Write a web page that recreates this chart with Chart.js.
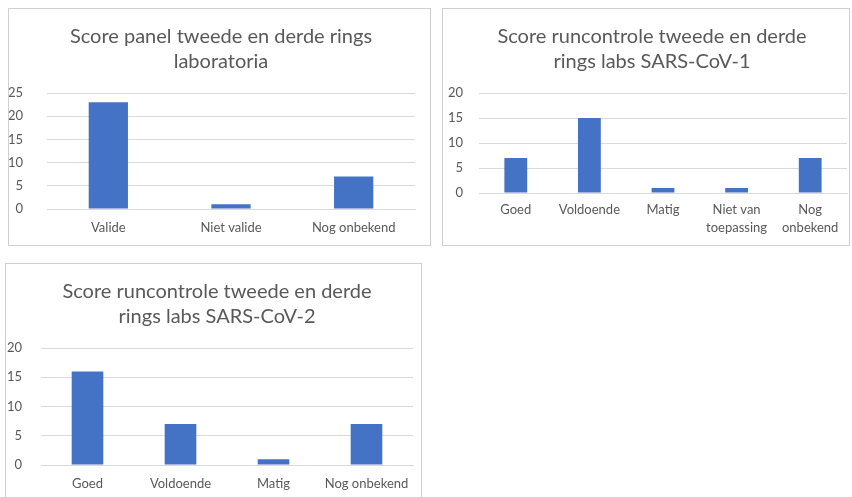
<!DOCTYPE html>
<html>
<head>
<meta charset="utf-8">
<script src="https://cdn.jsdelivr.net/npm/chart.js@4.4.1/dist/chart.umd.min.js"></script>
<style>
  body { margin: 0; background: #fff; width: 852px; height: 497px; overflow: hidden; position: relative; }
  .box { position: absolute; border: 1px solid #d0d0d0; background: #fff; overflow: hidden; }
  .box canvas { display: block; }
</style>
</head>
<body>
<div class="box" style="left:8px;top:8px;width:421px;height:236px;"><canvas id="c1" width="424" height="236"></canvas></div>
<div class="box" style="left:442px;top:8px;width:406px;height:236px;"><canvas id="c2" width="418" height="236"></canvas></div>
<div class="box" style="left:5px;top:263px;width:415px;height:240px;"><canvas id="c3" width="422" height="240"></canvas></div>
<script>
const title1 = ["Score panel tweede en derde rings", "laboratoria"];
const labels1 = ["Valide", "Niet valide", "Nog onbekend"];
const values1 = [23, 1, 7];
const yMax1 = 25;

const title2 = ["Score runcontrole tweede en derde", "rings labs SARS-CoV-1"];
const labels2 = ["Goed", "Voldoende", "Matig", ["Niet van", "toepassing"], ["Nog", "onbekend"]];
const values2 = [7, 15, 1, 1, 7];
const yMax2 = 20;

const title3 = ["Score runcontrole tweede en derde", "rings labs SARS-CoV-2"];
const labels3 = ["Goed", "Voldoende", "Matig", "Nog onbekend"];
const values3 = [16, 7, 1, 7];
const yMax3 = 20;

const FONT = "Lato, 'Open Sans', sans-serif";
const GREY = "#595959";

// geo: yWidth = room for y labels, yPad = gap label->axis, xHeight = room under axis,
// xPad = gap axis->labels, right = empty strip right of the plot (canvas is a bit wider
// than its box so the title sits slightly right of centre, like the original)
function makeChart(id, title, labels, values, yMax, geo, barPct) {
  const ctx = document.getElementById(id).getContext("2d");
  return new Chart(ctx, {
    type: "bar",
    data: {
      labels: labels,
      datasets: [{
        data: values,
        backgroundColor: "#4472c4",
        borderWidth: 0,
        categoryPercentage: 1,
        barPercentage: barPct,
      }],
    },
    options: {
      responsive: false,
      animation: false,
      layout: { padding: { left: 0, right: 0, top: 15, bottom: 0 } },
      plugins: {
        legend: { display: false },
        tooltip: { enabled: false },
        title: {
          display: true,
          text: title,
          color: GREY,
          font: { family: FONT, size: 20, weight: "normal", lineHeight: 1.25 },
          padding: { top: 0, bottom: 19 },
        },
      },
      scales: {
        x: {
          grid: { display: false, drawTicks: false },
          border: { display: true, color: "#d9d9d9" },
          ticks: { color: GREY, font: { family: FONT, size: 13, lineHeight: 1.4 }, padding: geo.xPad, maxRotation: 0, autoSkip: false },
          afterFit: (scale) => { scale.height = geo.xHeight; },
        },
        y: {
          min: 0,
          max: yMax,
          grid: { color: "#d9d9d9", drawTicks: false },
          border: { display: false },
          ticks: { stepSize: 5, color: GREY, font: { family: FONT, size: 13 }, padding: geo.yPad },
          afterFit: (scale) => { scale.width = geo.yWidth; },
        },
        spacer: {
          type: "linear",
          position: "right",
          grid: { display: false, drawTicks: false },
          border: { display: false },
          ticks: { display: false },
          afterFit: (scale) => { scale.width = geo.right; },
        },
      },
    },
  });
}

makeChart("c1", title1, labels1, values1, yMax1, { yWidth: 38, yPad: 24, xHeight: 36, xPad: 10, right: 18 }, 0.32);
makeChart("c2", title2, labels2, values2, yMax2, { yWidth: 36, yPad: 16, xHeight: 52, xPad: 8, right: 14 }, 0.31);
makeChart("c3", title3, labels3, values3, yMax3, { yWidth: 35, yPad: 19, xHeight: 39, xPad: 10, right: 15 }, 0.34);
</script>
</body>
</html>
